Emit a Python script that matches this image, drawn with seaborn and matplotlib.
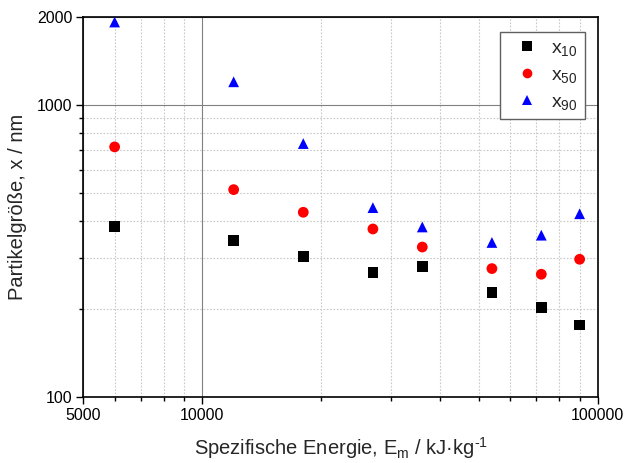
import numpy as np
import pandas as pd
import matplotlib
matplotlib.use("Agg")
import matplotlib.pyplot as plt
import matplotlib.ticker as mticker
import seaborn as sns

energy = [6000, 12000, 18000, 27000, 36000, 54000, 72000, 90000]
x10 = [383, 344, 303, 267, 280, 228, 202, 176]
x50 = [719, 513, 429, 376, 326, 275, 263, 296]
x90 = [1927, 1202, 738, 445, 382, 338, 358, 424]
series_names = ["x$_{10}$", "x$_{50}$", "x$_{90}$"]
x_ticks = [5000, 10000, 100000]
y_ticks = [100, 1000, 2000]

df = pd.DataFrame({
    "E": energy * 3,
    "x": x10 + x50 + x90,
    "series": [series_names[0]] * len(energy) + [series_names[1]] * len(energy) + [series_names[2]] * len(energy),
})

sns.set_theme(style="white")
plt.rcParams["font.family"] = ["Liberation Sans", "DejaVu Sans"]
plt.rcParams["mathtext.fontset"] = "custom"
plt.rcParams["mathtext.rm"] = "Liberation Sans"
plt.rcParams["mathtext.it"] = "Liberation Sans"

fig = plt.figure(figsize=(6.27, 4.63), dpi=100)
ax = fig.add_axes([0.1329, 0.1432, 0.8204, 0.8194])

palette = {series_names[0]: "black", series_names[1]: "red", series_names[2]: "blue"}
markers = {series_names[0]: "s", series_names[1]: "o", series_names[2]: "^"}
sns.scatterplot(data=df, x="E", y="x", hue="series", style="series",
                palette=palette, markers=markers, s=60, linewidth=0,
                ax=ax, zorder=3, clip_on=False)

ax.set_xscale("log")
ax.set_yscale("log")
ax.set_xlim(5000, 100000)
ax.set_ylim(100, 2000)

ax.xaxis.set_major_locator(mticker.FixedLocator(x_ticks))
ax.xaxis.set_minor_locator(mticker.FixedLocator([6000, 7000, 8000, 9000, 20000, 30000, 40000, 50000, 60000, 70000, 80000, 90000]))
ax.yaxis.set_major_locator(mticker.FixedLocator(y_ticks))
ax.yaxis.set_minor_locator(mticker.FixedLocator([200, 300, 400, 500, 600, 700, 800, 900]))
ax.xaxis.set_major_formatter(mticker.FuncFormatter(lambda v, p: f"{int(v)}"))
ax.yaxis.set_major_formatter(mticker.FuncFormatter(lambda v, p: f"{int(v)}"))
ax.xaxis.set_minor_formatter(mticker.NullFormatter())
ax.yaxis.set_minor_formatter(mticker.NullFormatter())

ax.grid(True, which="major", color="#808080", linewidth=0.8, linestyle="-")
ax.grid(True, which="minor", color="#c8c8c8", linewidth=0.8, linestyle=(0, (1.5, 1.5)))
ax.set_axisbelow(True)

for s in ax.spines.values():
    s.set_color("black")
    s.set_linewidth(1.2)

ax.tick_params(which="major", direction="out", length=5, width=1.0, colors="black",
               labelsize=11.5, bottom=True, left=True, top=False, right=False, pad=3)
ax.tick_params(which="minor", direction="out", length=3, width=1.0, colors="black",
               bottom=True, left=True, top=False, right=False)

ax.set_xlabel("Spezifische Energie, E$_\\mathrm{m}$ / kJ\u00b7kg$^{\u2010 1}$", fontsize=14.5, labelpad=9)
ax.set_ylabel("Partikelgröße, x / nm", fontsize=14.5, labelpad=7)

leg = ax.legend(loc="upper right", bbox_to_anchor=(0.976, 0.961), borderaxespad=0,
                fontsize=14, frameon=True, fancybox=False, edgecolor="#606060", framealpha=1,
                handlelength=2.0, handletextpad=0.25, borderpad=0.38, labelspacing=0.42,
                markerscale=0.9)
leg.get_frame().set_linewidth(1.0)
leg.set_title(None)

fig.savefig("out.png", dpi=100)
